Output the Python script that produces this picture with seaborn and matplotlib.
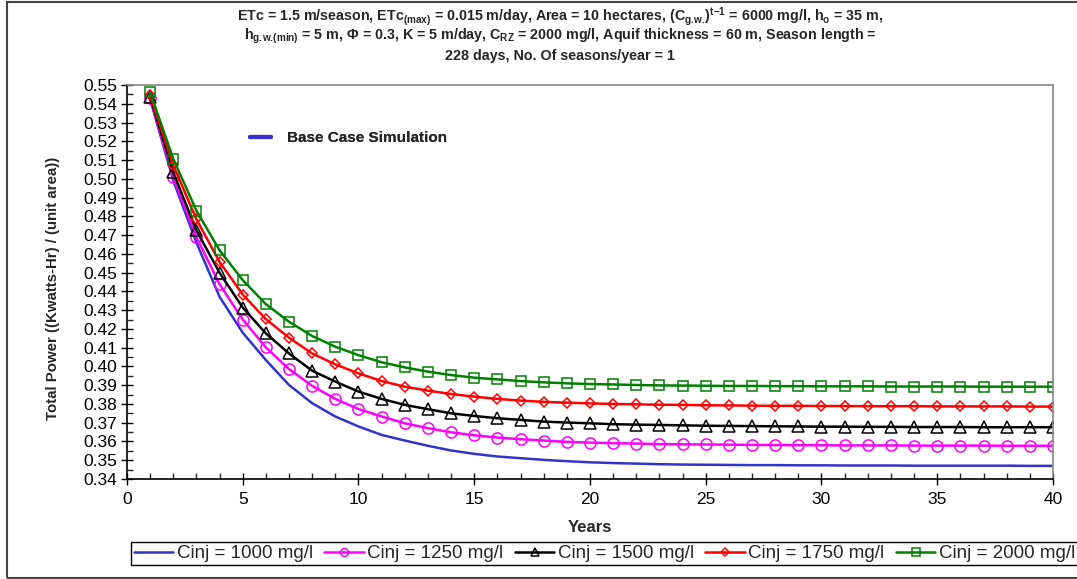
import seaborn as sns
import pandas as pd
import matplotlib.pyplot as plt
from matplotlib.lines import Line2D
from matplotlib.patches import Rectangle
from matplotlib.ticker import MultipleLocator, FormatStrFormatter

# Values (Total power per unit area vs years)
years = list(range(1, 41))

cinj_1000 = [0.5425, 0.4990, 0.4660, 0.4371, 0.4180, 0.4034, 0.3901, 0.3804, 0.3733, 0.3680,
             0.3635, 0.3605, 0.3577, 0.3552, 0.3534, 0.3520, 0.3511, 0.3502, 0.3495, 0.3489,
             0.3485, 0.3482, 0.3479, 0.3477, 0.3476, 0.3475, 0.3474, 0.3474, 0.3473, 0.3473,
             0.3472, 0.3472, 0.3472, 0.3471, 0.3471, 0.3471, 0.3471, 0.3471, 0.3470, 0.3470]
cinj_1250 = [0.5429, 0.5007, 0.4689, 0.4438, 0.4250, 0.4101, 0.3986, 0.3896, 0.3827, 0.3773,
             0.3733, 0.3697, 0.3671, 0.3649, 0.3633, 0.3621, 0.3612, 0.3605, 0.3598, 0.3594,
             0.3591, 0.3589, 0.3586, 0.3585, 0.3584, 0.3583, 0.3582, 0.3581, 0.3580, 0.3580,
             0.3579, 0.3579, 0.3579, 0.3578, 0.3578, 0.3578, 0.3578, 0.3577, 0.3577, 0.3577]
cinj_1500 = [0.5438, 0.5034, 0.4725, 0.4499, 0.4314, 0.4176, 0.4069, 0.3977, 0.3919, 0.3866,
             0.3827, 0.3795, 0.3772, 0.3750, 0.3736, 0.3724, 0.3715, 0.3706, 0.3701, 0.3697,
             0.3692, 0.3690, 0.3688, 0.3686, 0.3684, 0.3683, 0.3682, 0.3681, 0.3680, 0.3679,
             0.3679, 0.3678, 0.3678, 0.3677, 0.3677, 0.3677, 0.3676, 0.3676, 0.3676, 0.3676]
cinj_1750 = [0.5447, 0.5072, 0.4784, 0.4557, 0.4383, 0.4252, 0.4153, 0.4069, 0.4011, 0.3963,
             0.3922, 0.3892, 0.3871, 0.3853, 0.3839, 0.3827, 0.3818, 0.3811, 0.3807, 0.3803,
             0.3800, 0.3798, 0.3796, 0.3795, 0.3793, 0.3792, 0.3791, 0.3790, 0.3790, 0.3789,
             0.3789, 0.3788, 0.3788, 0.3788, 0.3787, 0.3787, 0.3787, 0.3787, 0.3786, 0.3786]
cinj_2000 = [0.5461, 0.5106, 0.4830, 0.4619, 0.4460, 0.4332, 0.4238, 0.4162, 0.4105, 0.4060,
             0.4022, 0.3995, 0.3972, 0.3954, 0.3940, 0.3931, 0.3922, 0.3915, 0.3910, 0.3906,
             0.3904, 0.3901, 0.3899, 0.3898, 0.3897, 0.3896, 0.3896, 0.3895, 0.3895, 0.3894,
             0.3894, 0.3894, 0.3893, 0.3893, 0.3893, 0.3893, 0.3892, 0.3892, 0.3892, 0.3892]

series_labels = ["Cinj = 1000 mg/l", "Cinj = 1250 mg/l", "Cinj = 1500 mg/l",
                 "Cinj = 1750 mg/l", "Cinj = 2000 mg/l"]
series_values = [cinj_1000, cinj_1250, cinj_1500, cinj_1750, cinj_2000]

# look of each series
colors = ["#3333cc", "#ff00ff", "#000000", "#ff0000", "#008000"]
markers = ["", "o", "^", "D", "s"]
marker_sizes = [0, 8, 8, 5.5, 7.5]

sns.set_style("ticks")
plt.rcParams["font.family"] = ["Liberation Sans", "DejaVu Sans"]
plt.rcParams["mathtext.fontset"] = "custom"
plt.rcParams["mathtext.bf"] = "Liberation Sans:bold"
plt.rcParams["mathtext.rm"] = "Liberation Sans:bold"
plt.rcParams["mathtext.default"] = "bf"

fig = plt.figure(figsize=(10.77, 5.79), dpi=100)
ax = fig.add_axes([0.1179, 0.1727, 0.8598, 0.6805])

for label, vals, col, mk, ms in zip(series_labels, series_values, colors, markers, marker_sizes):
    df = pd.DataFrame({"Years": years, "Power": vals})
    sns.lineplot(data=df, x="Years", y="Power", ax=ax, color=col, lw=1.8,
                 marker=mk if mk else None, markersize=ms, markerfacecolor="none",
                 markeredgecolor=col, markeredgewidth=1.1, label=label, legend=False)

ax.set_xlim(0, 40)
ax.set_ylim(0.34, 0.55)
ax.xaxis.set_major_locator(MultipleLocator(5))
ax.xaxis.set_minor_locator(MultipleLocator(1))
ax.yaxis.set_major_locator(MultipleLocator(0.01))
ax.yaxis.set_minor_locator(MultipleLocator(0.005))
ax.yaxis.set_major_formatter(FormatStrFormatter("%.2f"))
ax.tick_params(which="major", direction="inout", length=8, width=1, labelsize=12.5, colors="black")
ax.tick_params(which="minor", direction="in", length=4, width=1)
ax.tick_params(axis="x", which="major", pad=5)
ax.tick_params(axis="y", which="major", pad=3)

for side in ["left", "bottom"]:
    ax.spines[side].set_color("black")
    ax.spines[side].set_linewidth(1.2)
for side in ["top", "right"]:
    ax.spines[side].set_color("#888888")
    ax.spines[side].set_linewidth(1.2)

ax.set_xlabel("Years", fontsize=12, fontweight="bold")
ax.xaxis.set_label_coords(0.5, -(527 - 479) / 394, transform=ax.transAxes)
ax.xaxis.label.set_va("center")
ax.set_ylabel("Total Power ((Kwatts-Hr) / (unit area))", fontsize=10.8, fontweight="bold")
ax.yaxis.set_label_coords((60 - 127) / 926, (479 - 288) / 394)

# small inner legend for the base case
base_handle = Line2D([], [], color=colors[0], lw=3)
inner = ax.legend([base_handle], ["Base Case Simulation"], loc="center left",
                  bbox_to_anchor=(0.118, 0.865), frameon=False, handlelength=1.4,
                  handletextpad=1.0, prop={"weight": "bold", "size": 11})
ax.add_artist(inner)

# bottom legend
handles = ax.get_lines()[:5]
fig.legend(handles, series_labels, loc="center", bbox_to_anchor=(604.5 / 1077, 1 - 553.5 / 579),
           ncol=5, frameon=True, fancybox=False, edgecolor="black", framealpha=1,
           fontsize=13.5, handlelength=2.1, columnspacing=0.6, handletextpad=0.2,
           borderpad=0.15, borderaxespad=0, markerscale=0.7)

title_lines = [
    r"ETc = 1.5 m/season, ETc$_{(max)}$ = 0.015 m/day, Area = 10 hectares, (C$_{g.\!w.\!}$)$^{t{-}1}$ = 6000 mg/l, h$_{o}$ = 35 m,",
    r"h$_{g.\!w.\!(min)}$ = 5 m, Φ = 0.3, K = 5 m/day, C$_{RZ}$ = 2000 mg/l, Aquif thickness = 60 m, Season length =",
    "228 days, No. Of seasons/year = 1",
]
for i, line in enumerate(title_lines):
    fig.text(0.52, 1 - (17 + 19.5 * i) / 579, line, ha="center", va="center",
             fontsize=10.3, fontweight="bold")

# chart border
fig.patches.append(Rectangle((7 / 1077, 1 / 579), 1.2, 576 / 579, transform=fig.transFigure,
                             fill=False, edgecolor="#444444", lw=1.5))

fig.savefig("out.png", dpi=100)
